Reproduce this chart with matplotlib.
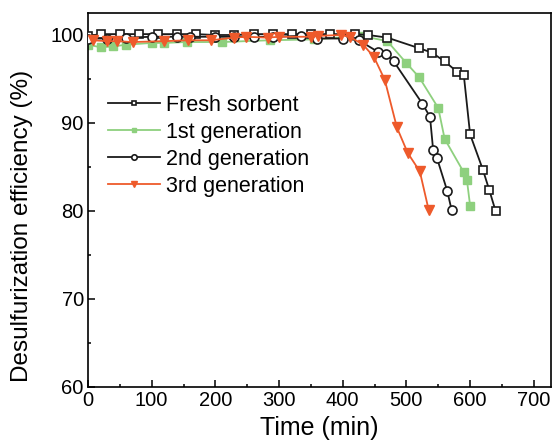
import matplotlib
matplotlib.use("Agg")
import matplotlib.pyplot as plt
from matplotlib.ticker import MultipleLocator

plt.rcParams['font.family'] = ['Liberation Sans', 'DejaVu Sans']

fresh_x = [0, 20, 50, 80, 110, 140, 170, 200, 230, 260, 290, 320, 350, 380, 420, 440, 470, 520, 540, 560, 580, 590, 600, 620, 630, 640]
fresh_y = [99.9, 100.1, 100.1, 100.1, 100.1, 100.1, 100.1, 100.0, 100.0, 100.1, 100.1, 100.1, 100.1, 100.1, 100.1, 100.0, 99.7, 98.5, 98.0, 97.0, 95.8, 95.5, 88.7, 84.7, 82.4, 80.0]

gen1_x = [0, 20, 40, 60, 100, 120, 155, 210, 285, 355, 430, 470, 500, 520, 550, 560, 590, 595, 600]
gen1_y = [98.9, 98.6, 98.7, 98.9, 99.1, 99.1, 99.2, 99.2, 99.4, 99.5, 99.9, 99.3, 96.8, 95.2, 91.7, 88.2, 84.4, 83.5, 80.6]

gen2_x = [0, 30, 60, 100, 140, 160, 200, 230, 260, 290, 335, 360, 400, 425, 455, 468, 480, 525, 537, 542, 548, 564, 571]
gen2_y = [99.6, 99.6, 99.7, 99.8, 99.8, 99.8, 99.8, 99.8, 99.8, 99.8, 99.9, 99.6, 99.6, 99.4, 98.1, 97.8, 97.0, 92.2, 90.7, 86.9, 86.0, 82.3, 80.1]

gen3_x = [8, 30, 46, 70, 120, 157, 193, 229, 248, 282, 300, 350, 361, 397, 411, 432, 449, 466, 485, 502, 521, 535]
gen3_y = [99.4, 99.3, 99.3, 99.2, 99.3, 99.4, 99.4, 99.7, 99.8, 99.7, 99.8, 99.8, 99.9, 100.0, 99.8, 98.9, 97.5, 94.9, 89.5, 86.6, 84.5, 80.1]

labels = ["Fresh sorbent", "1st generation", "2nd generation", "3rd generation"]

fig = plt.figure(figsize=(5.52, 4.41), dpi=100)
ax = fig.add_axes([88/552, 1-387/441, (551-88)/552, (387-13)/441])

green = '#8ED07E'
orange = '#EE5A2B'
lw = 1.3
ax.plot(fresh_x, fresh_y, '-', color='#1a1a1a', lw=lw, marker='s', ms=6, mfc='white', mec='#1a1a1a', mew=1.2, label=labels[0], zorder=3)
ax.plot(gen1_x, gen1_y, '-', color=green, lw=lw, marker='s', ms=6, mfc=green, mec=green, label=labels[1], zorder=2)
ax.plot(gen2_x, gen2_y, '-', color='#1a1a1a', lw=lw, marker='o', ms=6.5, mfc='white', mec='#1a1a1a', mew=1.2, label=labels[2], zorder=4)
ax.plot(gen3_x, gen3_y, '-', color=orange, lw=lw, marker='v', ms=7.5, mfc=orange, mec=orange, label=labels[3], zorder=5)

ax.set_xlim(0, 727)
ax.set_ylim(60, 102.5)
ax.xaxis.set_major_locator(MultipleLocator(100))
ax.xaxis.set_minor_locator(MultipleLocator(50))
ax.yaxis.set_major_locator(MultipleLocator(10))
ax.yaxis.set_minor_locator(MultipleLocator(5))
ax.tick_params(which='both', direction='in', top=False, right=False, width=1.1, labelsize=14.5, pad=3)
ax.tick_params(which='major', length=5)
ax.tick_params(which='minor', length=2.5)
for s in ax.spines.values():
    s.set_linewidth(1.2)

ax.set_xlabel("Time (min)", fontsize=18, labelpad=4)
ax.set_ylabel("Desulfurization efficiency (%)", fontsize=17.5)
ax.yaxis.set_label_coords(-0.118, 0.43)

leg = ax.legend(loc='upper left', bbox_to_anchor=(0.025, 0.805), frameon=False, fontsize=15.5,
                markerscale=0.6, handlelength=2.4, handletextpad=0.3, labelspacing=0.28, borderaxespad=0)

fig.savefig("out.png", dpi=100)
